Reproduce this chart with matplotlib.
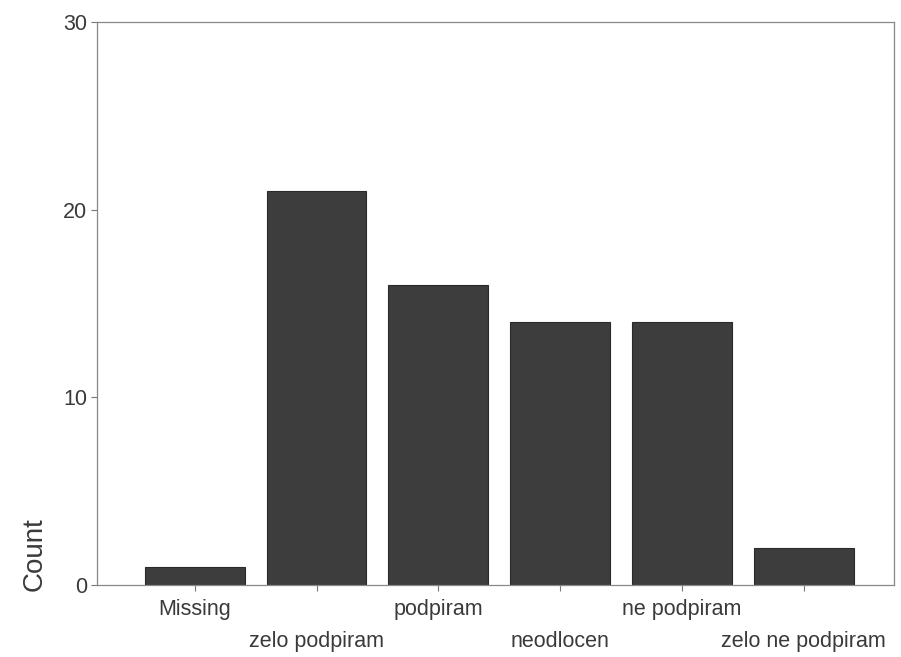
import numpy as np
import matplotlib.pyplot as plt

plt.rcParams['font.family'] = ['Liberation Sans', 'DejaVu Sans']

categories = ['Missing', 'zelo podpiram', 'podpiram', 'neodlocen',
              'ne podpiram', 'zelo ne podpiram']
counts = [1, 21, 16, 14, 14, 2]
yticks = [0, 10, 20, 30]

fig = plt.figure(figsize=(9.01, 6.57), dpi=100)
ax = fig.add_axes([0.108, 0.109, 0.884, 0.858])

x = np.arange(len(categories))
ax.bar(x, counts, width=0.82, color='#3d3d3d', edgecolor='#2a2a2a', linewidth=0.8)

ax.set_xlim(-0.80, 5.74)
ax.set_ylim(0, 30)
ax.set_yticks(yticks)
ax.set_xticks(x)
ax.set_xticklabels(categories)
ax.tick_params(axis='both', labelsize=15.5, colors='#777777', labelcolor='#3a3a3a',
               length=4, width=0.8)
ax.tick_params(axis='x', pad=6)
for t in ax.xaxis.get_major_ticks()[1::2]:
    t.set_pad(29)

for s in ax.spines.values():
    s.set_color('#888888')
    s.set_linewidth(0.9)

ax.set_ylabel('Count', fontsize=20, color='#3a3a3a')
ax.yaxis.set_label_coords(-0.062, 0.055)

fig.savefig('out.png', dpi=100)
